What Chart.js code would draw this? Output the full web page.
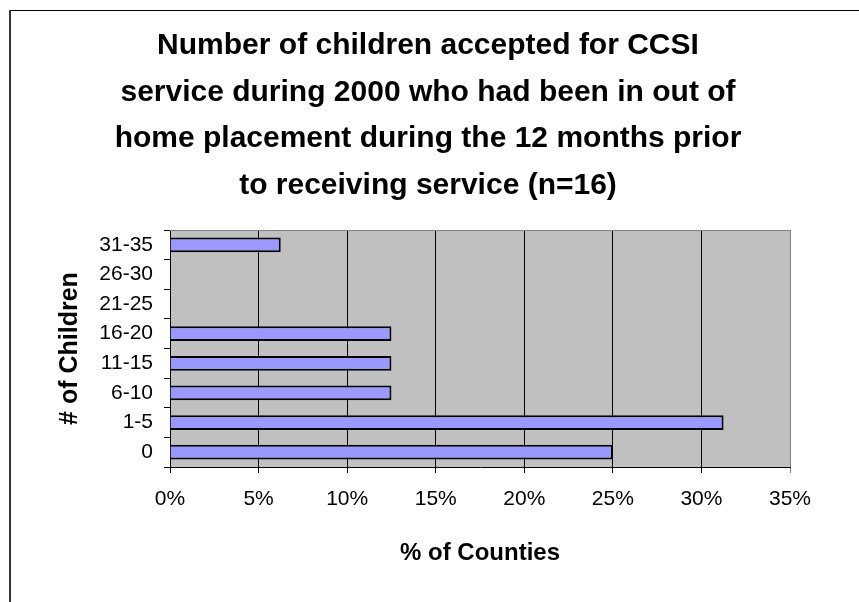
<!DOCTYPE html>
<html>
<head>
<meta charset="utf-8">
<title>CCSI out of home placement</title>
<script src="https://cdn.jsdelivr.net/npm/chart.js@4/dist/chart.umd.min.js"></script>
<style>
  html, body { margin: 0; padding: 0; background: #fff; }
  canvas { display: block; }
</style>
</head>
<body>
<canvas id="placementChart" width="859" height="602"></canvas>
<script>
// Children in out of home placement, share of counties per bucket (n=16)
const childBuckets = ["0", "1-5", "6-10", "11-15", "16-20", "21-25", "26-30", "31-35"];
const countyShare = [25, 31.25, 12.5, 12.5, 12.5, 0, 0, 6.25];
const shareTicks = [0, 5, 10, 15, 20, 25, 30, 35];

const titleLines = [
  "Number of children accepted for CCSI",
  "service during 2000 who had been in out of",
  "home placement during the 12 months prior",
  "to receiving service (n=16)"
];

const fontFamily = "'Liberation Sans', Arial, sans-serif";

// grey plot background, frame lines and the heading
const sheetPlugin = {
  id: "sheet",
  beforeDraw(chart) {
    const { ctx, chartArea: a } = chart;
    ctx.save();
    ctx.fillStyle = "#c0c0c0";
    ctx.fillRect(a.left, a.top, a.right - a.left, a.bottom - a.top);
    ctx.restore();
  },
  afterDraw(chart) {
    const { ctx, chartArea: a, width, height } = chart;
    ctx.save();
    // plot border (top / right)
    ctx.strokeStyle = "#808080";
    ctx.lineWidth = 1;
    ctx.beginPath();
    ctx.moveTo(a.left, a.top + 0.5);
    ctx.lineTo(a.right + 0.5, a.top + 0.5);
    ctx.lineTo(a.right + 0.5, a.bottom);
    ctx.stroke();
    // outer frame
    ctx.strokeStyle = "#000";
    ctx.beginPath();
    ctx.moveTo(9, 10.5);
    ctx.lineTo(width, 10.5);
    ctx.stroke();
    ctx.strokeStyle = "#333";
    ctx.lineWidth = 2;
    ctx.beginPath();
    ctx.moveTo(10, 10);
    ctx.lineTo(10, height);
    ctx.stroke();
    // heading
    ctx.fillStyle = "#000";
    ctx.font = "bold 30px " + fontFamily;
    ctx.textAlign = "center";
    ctx.textBaseline = "middle";
    titleLines.forEach((line, i) => {
      ctx.fillText(line, 428, 46 + i * 46.5);
    });
    ctx.restore();
  }
};

new Chart(document.getElementById("placementChart"), {
  type: "bar",
  data: {
    labels: childBuckets,
    datasets: [
      {
        data: countyShare,
        backgroundColor: "#9999ff",
        borderColor: "#000",
        borderWidth: 2,
        barPercentage: 0.5,
        categoryPercentage: 1
      }
    ]
  },
  options: {
    indexAxis: "y",
    responsive: false,
    animation: false,
    layout: { padding: { left: 10, top: 230, right: 69, bottom: 0 } },
    plugins: {
      legend: { display: false },
      tooltip: { enabled: false }
    },
    scales: {
      x: {
        min: 0,
        max: 35,
        afterBuildTicks(scale) {
          scale.ticks = shareTicks.map((v) => ({ value: v }));
        },
        afterFit(scale) {
          scale.height = 135;
        },
        ticks: {
          color: "#000",
          padding: 14,
          font: { family: fontFamily, size: 21 },
          callback: (v) => v + "%"
        },
        grid: {
          color: (c) => (c.tick && c.tick.value === 35 ? "#808080" : "#000"),
          lineWidth: 1,
          tickLength: 6
        },
        border: { color: "#000", width: 1 },
        title: {
          display: true,
          text: "% of Counties",
          color: "#000",
          font: { family: fontFamily, size: 24, weight: "bold" },
          padding: { top: 0, bottom: 34 }
        }
      },
      y: {
        reverse: true,
        afterFit(scale) {
          scale.width = 160;
        },
        ticks: {
          color: "#000",
          padding: 11,
          font: { family: fontFamily, size: 21 }
        },
        grid: {
          offset: true,
          drawOnChartArea: false,
          color: "#000",
          tickLength: 6
        },
        border: { color: "#000", width: 1 },
        title: {
          display: true,
          text: "# of Children",
          color: "#000",
          font: { family: fontFamily, size: 25, weight: "bold" },
          padding: { top: 45, bottom: 0 }
        }
      }
    }
  },
  plugins: [sheetPlugin]
});
</script>
</body>
</html>
